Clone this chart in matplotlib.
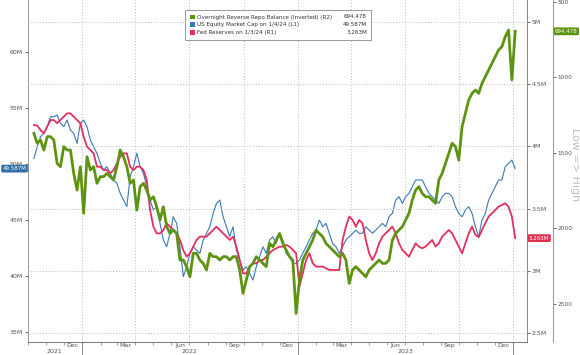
import matplotlib
matplotlib.use("Agg")
import matplotlib.pyplot as plt
import matplotlib.transforms as mtransforms
from matplotlib.patches import Rectangle
import pandas as pd

# ~5.6 day sampling, Oct 2021 -> Jan 4 2024
dates = pd.date_range("2021-10-11", "2024-01-04", periods=146)

# US equity market cap (L1, $M... shown as "M")
equity = [50.50, 51.54, 52.44, 52.73, 53.33, 54.22, 54.22, 54.37, 53.63, 53.33,
          53.92, 53.03, 52.73, 51.84, 53.63, 53.92, 53.33, 52.14, 51.54, 50.95,
          50.06, 49.46, 49.76, 49.16, 48.57, 48.27, 47.38, 46.78, 46.19, 48.87,
          49.76, 50.95, 49.76, 49.16, 47.97, 46.78, 45.89, 46.19, 44.70, 43.21,
          42.61, 43.81, 45.29, 44.70, 42.61, 39.94, 40.83, 42.02, 42.61, 42.32,
          42.02, 43.21, 43.81, 44.40, 45.59, 46.48, 46.78, 45.29, 44.40, 43.51,
          44.40, 42.32, 41.42, 40.53, 40.83, 40.23, 39.64, 40.83, 41.72, 42.61,
          42.02, 43.21, 43.51, 42.91, 43.81, 43.21,
          42.02, 41.72, 41.13, 41.13, 41.43, 42.02, 42.62, 43.21, 43.81, 44.10,
          45.00, 44.40, 44.70, 43.81, 42.91, 42.62, 42.02, 42.62, 43.21, 43.51,
          43.81, 44.10, 43.81, 43.81, 44.40, 44.10, 43.81, 44.10, 44.40, 44.70,
          44.40, 45.29, 45.59, 46.78, 47.08, 46.48, 47.08, 47.38, 47.97, 48.57,
          48.57, 48.57, 47.97, 47.38, 47.08, 46.78, 46.48, 47.08, 47.38, 47.38,
          47.08, 46.19, 45.59, 45.29, 45.89, 46.19, 45.59, 44.40, 43.51, 45.00,
          45.59, 46.78, 47.38, 47.97, 48.57, 48.57, 49.76, 50.06, 50.35, 49.587]

# Fed reserves (R1, trillions shown as "M")
reserves = [4.172, 4.167, 4.132, 4.105, 4.159, 4.212, 4.212, 4.186, 4.212, 4.239,
            4.266, 4.266, 4.239, 4.212, 4.186, 4.078, 3.998, 3.971, 3.944, 3.837,
            3.837, 3.810, 3.810, 3.784, 3.810, 3.864, 3.918, 3.944, 3.944, 3.837,
            3.810, 3.837, 3.837, 3.810, 3.730, 3.489, 3.355, 3.301, 3.301, 3.328,
            3.382, 3.355, 3.328, 3.301, 3.248, 3.167, 3.114, 3.141, 3.194, 3.248,
            3.275, 3.275, 3.275, 3.301, 3.328, 3.355, 3.328, 3.301, 3.275, 3.248,
            3.275, 3.194, 3.087, 2.980, 2.980, 3.033, 3.060, 3.060, 3.087, 3.087,
            3.114, 3.141, 3.167, 3.181, 3.194, 3.194,
            3.208, 3.195, 3.168, 3.141, 2.873, 2.980, 3.087, 3.141, 3.061, 3.034,
            3.034, 3.034, 3.020, 3.007, 3.007, 3.007, 3.007, 3.248, 3.355, 3.436,
            3.409, 3.355, 3.409, 3.382, 3.248, 3.141, 3.087, 3.141, 3.221, 3.275,
            3.302, 3.328, 3.355, 3.302, 3.221, 3.168, 3.141, 3.114, 3.168, 3.221,
            3.195, 3.181, 3.195, 3.221, 3.248, 3.195, 3.221, 3.275, 3.302, 3.328,
            3.302, 3.248, 3.195, 3.141, 3.221, 3.302, 3.355, 3.290, 3.270, 3.328,
            3.382, 3.436, 3.462, 3.489, 3.516, 3.529, 3.543, 3.516, 3.436, 3.263]

# Overnight reverse repo balance (R2, inverted)
rrp = [1370, 1436, 1414, 1481, 1392, 1392, 1414, 1569, 1591, 1458,
       1481, 1481, 1635, 1746, 1591, 1900, 1525, 1613, 1591, 1701,
       1657, 1657, 1635, 1657, 1679, 1591, 1481, 1525, 1591, 1701,
       1679, 1878, 1723, 1701, 1746, 1812, 1790, 1856, 1944, 1856,
       1988, 2033, 2010, 2033, 2209, 2209, 2253, 2320, 2165, 2165,
       2209, 2231, 2275, 2165, 2187, 2187, 2209, 2187, 2187, 2209,
       2187, 2187, 2275, 2430, 2342, 2253, 2231, 2187, 2209, 2231,
       2253, 2099, 2121, 2077, 2033, 2099,
       2143, 2187, 2209, 2563, 2342, 2209, 2165, 2121, 2077, 2011,
       2033, 2055, 2099, 2121, 2143, 2165, 2187, 2165, 2209, 2364,
       2275, 2253, 2275, 2298, 2320, 2275, 2253, 2231, 2209, 2231,
       2231, 2209, 2077, 2033, 2011, 1988, 1944, 1900, 1812, 1746,
       1723, 1768, 1790, 1790, 1812, 1834, 1679, 1635, 1569, 1503,
       1436, 1458, 1547, 1326, 1238, 1149, 1105, 1083, 1105, 1039,
       995, 951, 907, 862, 818, 796, 730, 686, 1017, 694.478]

left_ticks = [35, 40, 45, 50, 55, 60]
r1_ticks = [2.5, 3, 3.5, 4, 4.5, 5]
r2_ticks = [500, 1000, 1500, 2000, 2500]
month_labels = ["Dec", "Mar", "Jun", "Sep", "Dec", "Mar", "Jun", "Sep", "Dec"]
month_dates = ["2021-12-15", "2022-03-15", "2022-06-15", "2022-09-15", "2022-12-15",
               "2023-03-15", "2023-06-15", "2023-09-15", "2023-12-15"]
year_labels = ["2021", "2022", "2023"]
year_dates = ["2021-11-14", "2022-07-02", "2023-07-02"]
year_breaks = ["2022-01-01", "2023-01-01", "2024-01-01"]

blue = "#3a78b6"
red = "#e0305e"
green = "#5c9412"
grey = "#555555"
fs = 4.5

fig = plt.figure(figsize=(5.8, 3.55), dpi=100)
ax = fig.add_axes([28 / 580, 13 / 355, 499 / 580, 342 / 355])
ax_r1 = ax.twinx()
ax_r2 = ax.twinx()

ax.plot(dates, equity, color=blue, lw=0.8)
ax_r1.plot(dates, reserves, color=red, lw=1.3)
ax_r2.plot(dates, rrp, color=green, lw=2.0)

ax.set_xlim(pd.Timestamp("2021-10-07"), pd.Timestamp("2024-01-24"))
ax.set_ylim(34.11, 64.64)
ax_r1.set_ylim(2.428, 5.177)
ax_r2.set_ylim(2752, 487)

ax.set_yticks(left_ticks)
ax.set_yticklabels([f"{t}M" for t in left_ticks])
ax_r1.set_yticks(r1_ticks)
ax_r1.set_yticklabels([f"{t:g}M" for t in r1_ticks])
ax_r2.set_yticks(r2_ticks)
ax_r2.set_yticklabels([str(t) for t in r2_ticks])
for a in (ax, ax_r1):
    a.tick_params(axis="y", labelsize=fs, colors=grey, length=2, width=0.6, pad=1.5)
ax_r2.tick_params(axis="y", labelsize=4.2, colors=grey, length=2, width=0.6, pad=1)

ax_r2.spines["right"].set_position(("axes", 1.052))
for a in (ax, ax_r1, ax_r2):
    a.spines["top"].set_visible(False)
ax.spines["right"].set_visible(False)
ax.spines["left"].set_color("#999999")
ax.spines["bottom"].set_color("#777777")
ax_r1.spines["right"].set_color("#d0607a")
ax_r2.spines["right"].set_color("#a0a050")
for a in (ax_r1, ax_r2):
    a.spines["left"].set_visible(False)
    a.spines["bottom"].set_visible(False)
for sp in ax.spines.values():
    sp.set_linewidth(0.7)
ax_r1.spines["right"].set_linewidth(0.7)
ax_r2.spines["right"].set_linewidth(0.7)

# x axis: quarter grid, monthly minor ticks, labels drawn by hand
quarters = pd.date_range("2022-01-01", "2024-01-01", freq="QS")
quarters = quarters.append(pd.DatetimeIndex(["2021-10-01"]))
months = pd.date_range("2021-11-01", "2024-01-01", freq="MS")
ax.set_xticks(quarters)
ax.set_xticks(months, minor=True)
ax.set_xticklabels([])
ax.tick_params(axis="x", which="both", length=2, width=0.5, colors="#777777")
ax.grid(axis="x", which="major", linestyle=(0, (1, 2)), color="#bbbbbb", lw=0.7)
ax_r1.grid(axis="y", linestyle=(0, (1, 2)), color="#bbbbbb", lw=0.7)

xt = ax.get_xaxis_transform()
for lab, d in zip(month_labels, month_dates):
    ax.text(pd.Timestamp(d), -0.011, lab, transform=xt, ha="center", va="center",
            fontsize=fs, color=grey)
for lab, d in zip(year_labels, year_dates):
    ax.text(pd.Timestamp(d), -0.029, lab, transform=xt, ha="center", va="center",
            fontsize=fs, color=grey)
for d in year_breaks:
    ax.plot([pd.Timestamp(d)] * 2, [0, -0.04], transform=xt, color="#777777",
            lw=0.6, clip_on=False)

# last value tags
tl = mtransforms.blended_transform_factory(ax.transAxes, ax.transData)
ax.text(-0.003, equity[-1], "49.587M", transform=tl, ha="right", va="center",
        fontsize=4, color="white",
        bbox=dict(boxstyle="round,pad=0.25", fc="#2f6ea8", ec="none"))
tr1 = mtransforms.blended_transform_factory(ax_r1.transAxes, ax_r1.transData)
ax_r1.text(1.004, reserves[-1], "3.263M", transform=tr1, ha="left", va="center",
           fontsize=4, color="white",
           bbox=dict(boxstyle="round,pad=0.25", fc="#e0304f", ec="none"))
tr2 = mtransforms.blended_transform_factory(ax_r2.transAxes, ax_r2.transData)
ax_r2.text(1.056, rrp[-1], "694.478", transform=tr2, ha="left", va="center",
           fontsize=4, color="white",
           bbox=dict(boxstyle="round,pad=0.25", fc="#5c9412", ec="none"))

fig.text(575.5 / 580, 1 - 165 / 355, "Low => High", rotation=270, fontsize=8,
         color="#c0c0c0", ha="center", va="center")

# legend box
fig.patches.append(Rectangle((185 / 580, 1 - 40 / 355), 186 / 580, 30 / 355,
                             transform=fig.transFigure, fc="white", ec="#888888",
                             lw=0.6, zorder=5))
legend_rows = [("Overnight Reverse Repo Balance (Inverted) (R2)", "694.478", green),
               ("US Equity Market Cap on 1/4/24 (L1)", "49.587M", blue),
               ("Fed Reserves on 1/3/24 (R1)", "3.263M", red)]
for i, (name, val, c) in enumerate(legend_rows):
    yy = 1 - (17 + i * 7.7) / 355
    fig.patches.append(Rectangle((190 / 580, yy - 2.3 / 355), 4.6 / 580, 4.6 / 355,
                                 transform=fig.transFigure, fc=c, ec="none", zorder=6))
    fig.text(197 / 580, yy, name, fontsize=4.1, color="#333333", va="center", zorder=7)
    fig.text(367 / 580, yy, val, fontsize=4.1, color="#333333", va="center",
             ha="right", zorder=7)

fig.savefig("out.png", dpi=100)
